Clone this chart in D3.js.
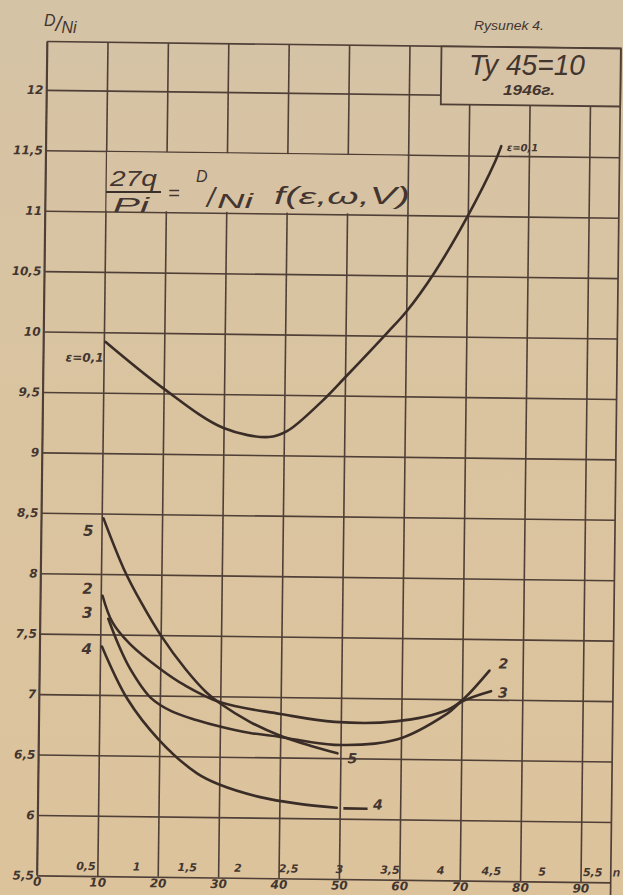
<!DOCTYPE html>
<html>
<head>
<meta charset="utf-8">
<script src="https://cdn.jsdelivr.net/npm/d3@7"></script>
<style>
  html, body { margin: 0; padding: 0; background: #d8c29f; }
  svg { display: block; }
  text { font-family: "Liberation Sans", "DejaVu Sans", sans-serif; fill: #43352f; }
</style>
</head>
<body>
<svg id="chart" width="623" height="895"></svg>
<script>
// axis ticks + labels
const xTickValues = [0, 10, 20, 30, 40, 50, 60, 70, 80, 90];
const xTickLabels = ["0", "10", "20", "30", "40", "50", "60", "70", "80", "90"];
const yTickValues = [5.5, 6, 6.5, 7, 7.5, 8, 8.5, 9, 9.5, 10, 10.5, 11, 11.5, 12];
const yTickLabels = ["5,5", "6", "6,5", "7", "7,5", "8", "8,5", "9", "9,5", "10", "10,5", "11", "11,5", "12"];
const secTickValues = [0.5, 1, 1.5, 2, 2.5, 3, 3.5, 4, 4.5, 5, 5.5];
const secTickLabels = ["0,5", "1", "1,5", "2", "2,5", "3", "3,5", "4", "4,5", "5", "5,5"];

// curves
const eps01X = [10.3, 20, 30, 37.5, 40.5, 46, 50, 57, 60, 64.5, 70, 74.4, 75.4];
const eps01Y = [9.92, 9.54, 9.22, 9.15, 9.2, 9.44, 9.65, 10.03, 10.2, 10.52, 11.0, 11.45, 11.58];

const curve5X = [10.3, 13.8, 16.8, 20, 24.2, 27.7, 30, 35, 40, 45, 49.5];
const curve5Y = [8.46, 8.04, 7.76, 7.5, 7.22, 7.03, 6.94, 6.79, 6.68, 6.6, 6.54];

const curve2X = [10.3, 12, 15, 20, 24, 30, 40, 49, 59, 67.6, 70, 74.5];
const curve2Y = [7.82, 7.6, 7.42, 7.22, 7.09, 6.95, 6.86, 6.8, 6.81, 6.91, 6.99, 7.24];

const curve3X = [11.3, 13, 15, 18.5, 22, 26.2, 30, 35, 40, 49, 59.3, 67.6, 70, 74.8];
const curve3Y = [7.63, 7.42, 7.22, 6.98, 6.87, 6.8, 6.75, 6.7, 6.67, 6.61, 6.66, 6.88, 6.98, 7.07];

const curve4X = [10.3, 14.6, 20, 26.3, 30, 36.8, 43, 49.5];
const curve4Y = [7.4, 6.97, 6.63, 6.36, 6.27, 6.17, 6.12, 6.09];

const INK = "#3a2d27";
const GRID = "#4f3f37";

const svg = d3.select("#chart");

// paper background, a little greyer at the top like the scan
const grad = svg.append("defs").append("linearGradient")
  .attr("id", "paper").attr("x1", 0).attr("y1", 0).attr("x2", 0).attr("y2", 1);
grad.append("stop").attr("offset", "0%").attr("stop-color", "#d5c3a6");
grad.append("stop").attr("offset", "45%").attr("stop-color", "#dac4a0");
grad.append("stop").attr("offset", "100%").attr("stop-color", "#dcc39c");
svg.append("rect").attr("width", 623).attr("height", 895).attr("fill", "url(#paper)");

const x = d3.scaleLinear().domain([0, 95]).range([42, 42 + 95 * 6.04]);
const y = d3.scaleLinear().domain([5.5, 12]).range([875.4, 89.8]);
const yTop = 12.4;
const secX = d3.scaleLinear().domain([0.5, 5.5]).range([x(8.1), x(92)]);

// the sheet was scanned slightly turned
const plot = svg.append("g").attr("transform", "rotate(0.7, 42, 460)");

// vertical grid + bottom labels
const xAxis = d3.axisBottom(x)
  .tickValues(xTickValues)
  .tickFormat((d, i) => xTickLabels[i])
  .tickSize(-(y(5.5) - y(yTop)))
  .tickPadding(2);

plot.append("g")
  .attr("transform", `translate(0,${y(5.5)})`)
  .call(xAxis)
  .call(g => g.select(".domain").remove())
  .call(g => g.selectAll(".tick line").attr("stroke", GRID).attr("stroke-width", 1.6))
  .call(g => g.selectAll(".tick text")
    .attr("fill", "#4a3a33")
    .style("font-family", "'DejaVu Sans', sans-serif")
    .style("font-style", "italic").style("font-weight", "bold").style("font-size", "12px"));

// horizontal grid + left labels
const yAxis = d3.axisLeft(y)
  .tickValues(yTickValues)
  .tickFormat((d, i) => yTickLabels[i])
  .tickSize(-(x(95) - x(0)))
  .tickPadding(3);

plot.append("g")
  .attr("transform", `translate(${x(0)},0)`)
  .call(yAxis)
  .call(g => g.select(".domain").remove())
  .call(g => g.selectAll(".tick line").attr("stroke", GRID).attr("stroke-width", 1.6))
  .call(g => g.selectAll(".tick text")
    .attr("fill", "#5e4f49")
    .style("font-family", "'DejaVu Sans', sans-serif")
    .style("font-style", "italic").style("font-weight", "bold").style("font-size", "12px"));

// frame: top, right and left borders
plot.append("line")
  .attr("x1", x(0)).attr("x2", x(95)).attr("y1", y(yTop)).attr("y2", y(yTop))
  .attr("stroke", GRID).attr("stroke-width", 1.7);
plot.append("line")
  .attr("x1", x(95)).attr("x2", x(95)).attr("y1", y(yTop)).attr("y2", 905)
  .attr("stroke", GRID).attr("stroke-width", 1.7);
plot.append("line")
  .attr("x1", x(0)).attr("x2", x(0)).attr("y1", y(yTop)).attr("y2", y(5.5))
  .attr("stroke", GRID).attr("stroke-width", 1.7);

// blank cell behind the formula
plot.append("rect")
  .attr("x", x(10) + 1).attr("y", y(11.5) + 1)
  .attr("width", x(60) - x(10) - 2).attr("height", y(11) - y(11.5) - 2)
  .attr("fill", "#d7c3a4");

// title block in the corner
plot.append("rect")
  .attr("x", x(65.3)).attr("y", y(yTop))
  .attr("width", x(95) - x(65.3)).attr("height", y(11.92) - y(yTop))
  .attr("fill", "#d6c3a5").attr("stroke", GRID).attr("stroke-width", 1.8);

// secondary scale labels inside the bottom row
plot.append("g").selectAll("text")
  .data(secTickValues)
  .join("text")
  .attr("x", d => secX(d))
  .attr("y", y(5.5) - 6)
  .attr("text-anchor", "middle")
  .style("font-family", "'DejaVu Sans', sans-serif")
  .style("font-style", "italic").style("font-weight", "bold").style("font-size", "11px")
  .attr("fill", "#4a3a33")
  .text((d, i) => secTickLabels[i]);

plot.append("text")
  .attr("x", x(95) + 2).attr("y", y(5.5) - 6)
  .style("font-style", "italic").style("font-weight", "bold").style("font-size", "12px")
  .text("n");

// curves
const line = d3.line()
  .x(d => x(d[0]))
  .y(d => y(d[1]))
  .curve(d3.curveCatmullRom.alpha(0.5));

const series = [
  [eps01X, eps01Y],
  [curve5X, curve5Y],
  [curve2X, curve2Y],
  [curve3X, curve3Y],
  [curve4X, curve4Y]
];

plot.append("g").selectAll("path")
  .data(series)
  .join("path")
  .attr("d", s => line(s[0].map((v, i) => [v, s[1][i]])))
  .attr("fill", "none")
  .attr("stroke", INK)
  .attr("stroke-width", 2.6)
  .attr("stroke-linecap", "round");

// short leader to label 4
plot.append("line")
  .attr("x1", x(50.6)).attr("x2", x(54.6))
  .attr("y1", y(6.085)).attr("y2", y(6.085))
  .attr("stroke", INK).attr("stroke-width", 2.6);

// curve labels
const curveLabels = [
  {t: "5", x: 7.8, y: 8.36, a: "middle", s: 15},
  {t: "2", x: 7.8, y: 7.88, a: "middle", s: 15},
  {t: "3", x: 7.8, y: 7.68, a: "middle", s: 15},
  {t: "4", x: 7.8, y: 7.38, a: "middle", s: 15},
  {t: "2", x: 76.8, y: 7.30, a: "middle", s: 14},
  {t: "3", x: 76.8, y: 7.06, a: "middle", s: 14},
  {t: "5", x: 52.0, y: 6.50, a: "middle", s: 14},
  {t: "4", x: 56.3, y: 6.12, a: "middle", s: 14},
  {t: "ε=0,1", x: 10.0, y: 9.79, a: "end", s: 12},
  {t: "ε=0,1", x: 76.3, y: 11.57, a: "start", s: 10}
];

plot.append("g").selectAll("text")
  .data(curveLabels)
  .join("text")
  .attr("x", d => x(d.x))
  .attr("y", d => y(d.y))
  .attr("dy", "0.36em")
  .attr("text-anchor", d => d.a)
  .style("font-family", "'DejaVu Sans', sans-serif")
  .style("font-style", "italic").style("font-weight", "bold")
  .style("font-size", d => d.s + "px")
  .attr("fill", INK)
  .text(d => d.t);

// handwritten annotations (page coordinates)
const hand = svg.append("g").style("font-style", "italic").attr("fill", "#3b2f2a");

const yTitle = hand.append("text").attr("x", 44).attr("y", 31);
yTitle.append("tspan").attr("font-size", 16).attr("dy", -5).text("D");
yTitle.append("tspan").attr("font-size", 21).attr("dy", 5).text("/");
yTitle.append("tspan").attr("font-size", 16).attr("dy", 2).text("Ni");

hand.append("text").attr("x", 474).attr("y", 30)
  .attr("font-size", 12).attr("textLength", 70).attr("lengthAdjust", "spacingAndGlyphs")
  .text("Rysunek 4.");

hand.append("text").attr("x", 469).attr("y", 75)
  .attr("font-size", 30).attr("textLength", 116).attr("lengthAdjust", "spacingAndGlyphs")
  .text("Ty 45=10");

hand.append("text").attr("x", 503).attr("y", 95)
  .attr("font-size", 14).attr("font-weight", "bold")
  .attr("textLength", 52).attr("lengthAdjust", "spacingAndGlyphs")
  .text("1946г.");

// formula
hand.append("text").attr("x", 110).attr("y", 186)
  .attr("font-size", 22).attr("textLength", 47).attr("lengthAdjust", "spacingAndGlyphs")
  .text("27q");
hand.append("line").attr("x1", 106).attr("x2", 161).attr("y1", 192).attr("y2", 192)
  .attr("stroke", "#3b2f2a").attr("stroke-width", 1.8);
hand.append("text").attr("x", 113).attr("y", 212)
  .attr("font-size", 20).attr("textLength", 36).attr("lengthAdjust", "spacingAndGlyphs")
  .text("Pi");
hand.append("text").attr("x", 168).attr("y", 200).attr("font-size", 20).text("=");
hand.append("text").attr("x", 196).attr("y", 182).attr("font-size", 16).text("D");
hand.append("text").attr("x", 207).attr("y", 207).attr("font-size", 28).text("/");
hand.append("text").attr("x", 217).attr("y", 208)
  .attr("font-size", 20).attr("textLength", 36).attr("lengthAdjust", "spacingAndGlyphs")
  .text("Ni");
hand.append("text").attr("x", 274).attr("y", 204)
  .attr("font-size", 23).attr("textLength", 136).attr("lengthAdjust", "spacingAndGlyphs")
  .text("f(ε,ω,V)");
</script>
</body>
</html>
